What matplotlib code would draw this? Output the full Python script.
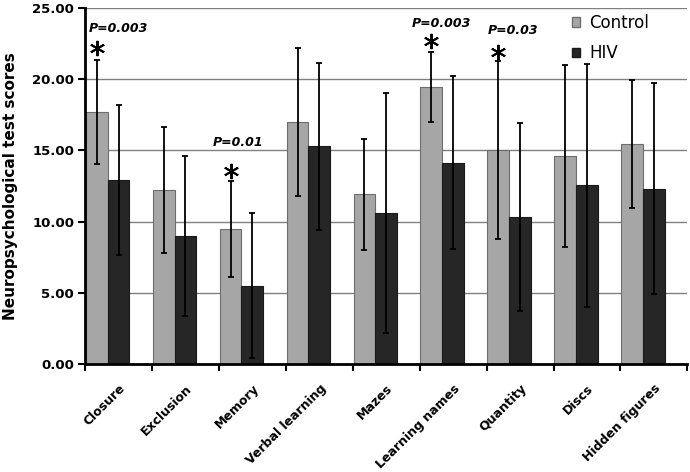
import matplotlib.pyplot as plt
from matplotlib.patches import Patch
import numpy as np

# datos
tests = ["Closure", "Exclusion", "Memory", "Verbal learning", "Mazes",
         "Learning names", "Quantity", "Discs", "Hidden figures"]
control_mean = [17.67, 12.21, 9.47, 17.01, 11.93, 19.45, 15.00, 14.60, 15.46]
control_sd = [3.65, 4.44, 3.39, 5.19, 3.90, 2.45, 6.25, 6.38, 4.50]
hiv_mean = [12.91, 9.00, 5.51, 15.30, 10.61, 14.15, 10.31, 12.56, 12.32]
hiv_sd = [5.27, 5.62, 5.10, 5.87, 8.43, 6.08, 6.62, 8.54, 7.40]

# significancia: índice de la prueba y valor p
sig_idx = [0, 2, 5, 6]
sig_p = ["P=0.003", "P=0.01", "P=0.003", "P=0.03"]

CONTROL = "#a6a6a6"
HIV = "#262626"

fig = plt.figure(figsize=(6.9, 4.72), dpi=100)
ax = fig.add_axes([85.3 / 690, 108 / 472, 602 / 690, 356 / 472])

x = np.arange(len(tests))
w = 0.325
ax.bar(x + 0.01, control_mean, w, align="edge", color=CONTROL,
       edgecolor="#6e6e6e", linewidth=0.8, zorder=2)
ax.bar(x + 0.01 + w, hiv_mean, w, align="edge", color=HIV,
       edgecolor="#1a1a1a", linewidth=0.8, zorder=2)
ax.errorbar(x + 0.01 + w / 2, control_mean, yerr=control_sd, fmt="none",
            ecolor="black", elinewidth=1.3, capsize=2.5, capthick=1.3, zorder=3)
ax.errorbar(x + 0.01 + 1.5 * w, hiv_mean, yerr=hiv_sd, fmt="none",
            ecolor="black", elinewidth=1.3, capsize=2.5, capthick=1.3, zorder=3)

# asteriscos y valores p
text_dx = [0.055, -0.096, -0.121, 0.02]
text_dy = [2.24, 2.7, 2.02, 2.17]
star_dy = [0.85, 0.66, 0.79, 0.68]
for i, p, dx, dy, sy in zip(sig_idx, sig_p, text_dx, text_dy, star_dy):
    top = control_mean[i] + control_sd[i]
    ax.plot(x[i] + 0.01 + w / 2, top + sy, marker=(6, 2, 0), markersize=11,
            markeredgewidth=1.4, color="black", zorder=4)
    ax.text(x[i] + dx, top + dy, p, ha="left", va="center", fontsize=9,
            fontweight="bold", fontstyle="italic")

ax.set_xlim(0, len(tests))
ax.set_ylim(0, 25)
ax.set_yticks(np.arange(0, 25.01, 5))
ax.set_yticklabels([f"{v:.2f}" for v in np.arange(0, 25.01, 5)],
                   fontsize=9.5, fontweight="bold")
ax.yaxis.grid(True, color="#808080", linewidth=1, zorder=0)
ax.set_axisbelow(True)

ax.set_xticks(np.arange(len(tests) + 1))
ax.set_xticklabels([])
ax.set_xticks(x + 0.5, minor=True)
ax.set_xticklabels(tests, minor=True, rotation=45, ha="right", va="top",
                   rotation_mode="anchor", fontsize=9, fontweight="bold")
ax.tick_params(axis="x", which="minor", length=0, pad=13)
ax.tick_params(axis="x", which="major", length=5, width=1.5, direction="out")
ax.tick_params(axis="y", length=5, width=1.5, direction="out", pad=3)

for s in ["top", "right"]:
    ax.spines[s].set_visible(False)
for s in ["left", "bottom"]:
    ax.spines[s].set_linewidth(2)

ax.set_ylabel("Neuropsychological test scores", fontsize=11,
              fontweight="bold")
ax.yaxis.set_label_coords(-0.111, 0.5)

handles = [Patch(facecolor=CONTROL, edgecolor="#6e6e6e", label="Control"),
           Patch(facecolor=HIV, edgecolor="#1a1a1a", label="HIV")]
fig.legend(handles=handles, loc="upper left",
           bbox_to_anchor=(572 / 690, 1 - 14 / 472), frameon=False,
           fontsize=12, handlelength=0.5, handleheight=0.5,
           handletextpad=0.55, labelspacing=0.75, borderpad=0,
           borderaxespad=0)

plt.savefig("out.png", dpi=100)
